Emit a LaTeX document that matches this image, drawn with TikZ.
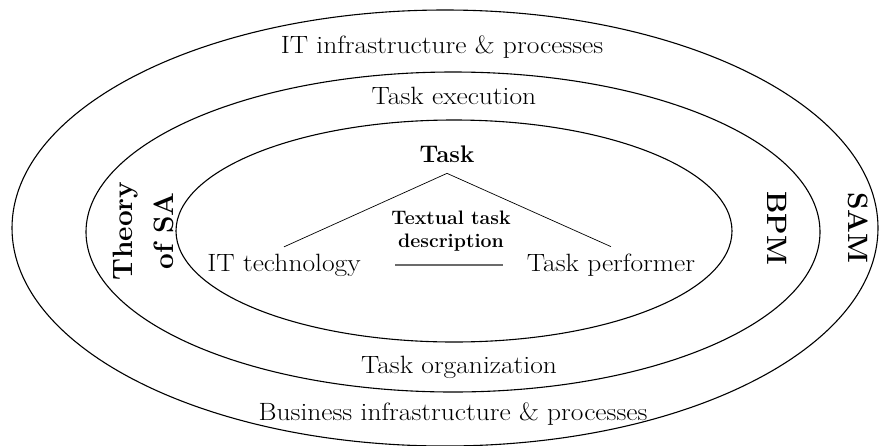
\documentclass[tikz,border=0pt]{standalone}
\usepackage{fontspec}
\usetikzlibrary{calc}
\tikzset{
  ring/.style={draw=black, line width=1.1pt},
  lbl/.style={font=\fontsize{25}{30}\selectfont, xscale=1.1, inner sep=0pt, anchor=base},
  tasklbl/.style={font=\bfseries\fontsize{24}{28}\selectfont, inner xsep=0pt, inner ysep=11pt, anchor=base},
  desclbl/.style={font=\bfseries\fontsize{19.5}{22.5}\selectfont, inner sep=0pt, align=center, anchor=base},
  side/.style={font=\bfseries\fontsize{28}{41}\selectfont, align=center, inner sep=0pt},
  thinline/.style={draw=black, line width=0.7pt},
  grayline/.style={draw=black!58, line width=1.2pt},
}
\begin{document}
\begin{tikzpicture}[x=1pt,y=-1pt]
\useasboundingbox (0,0) rectangle (880,445);
% rings
\draw[ring] (445,228) ellipse [x radius=433pt, y radius=218pt];
\draw[ring] (453,232) ellipse [x radius=367pt, y radius=160pt];
\draw[ring] (454,231) ellipse [x radius=278pt, y radius=111pt];
% ring labels
\node[lbl] (itinfra) at (442,53) {IT infrastructure \& processes};
\node[lbl] (taskexec) at (454,104) {Task execution};
\node[lbl] (taskorg) at (459,373) {Task organization};
\node[lbl] (businfra) at (453,420) {Business infrastructure \& processes};
% side labels
\node[side, rotate=90, anchor=base] (theory) at (173,231) {Theory\\of SA};
\node[side, rotate=-90] (bpm) at (777,228) {BPM};
\node[side, rotate=-90] (sam) at (858,228) {SAM};
% inner triangle
\node[tasklbl] (task) at (447,162) {Task};
\node[desclbl] (textual) at (451,247) {Textual task\\description};
\node[lbl, inner ysep=6.6pt] (ittech) at (284,271) {IT technology};
\node[lbl, inner ysep=6.6pt] (perf) at (611,271) {Task performer};
\draw[thinline] (task.south) -- (ittech.north);
\draw[thinline] (task.south) -- (perf.north);
\draw[grayline] ($(ittech.base)+(111,-6)$) -- ($(perf.base)+(-108,-6)$);
\end{tikzpicture}
\end{document}
